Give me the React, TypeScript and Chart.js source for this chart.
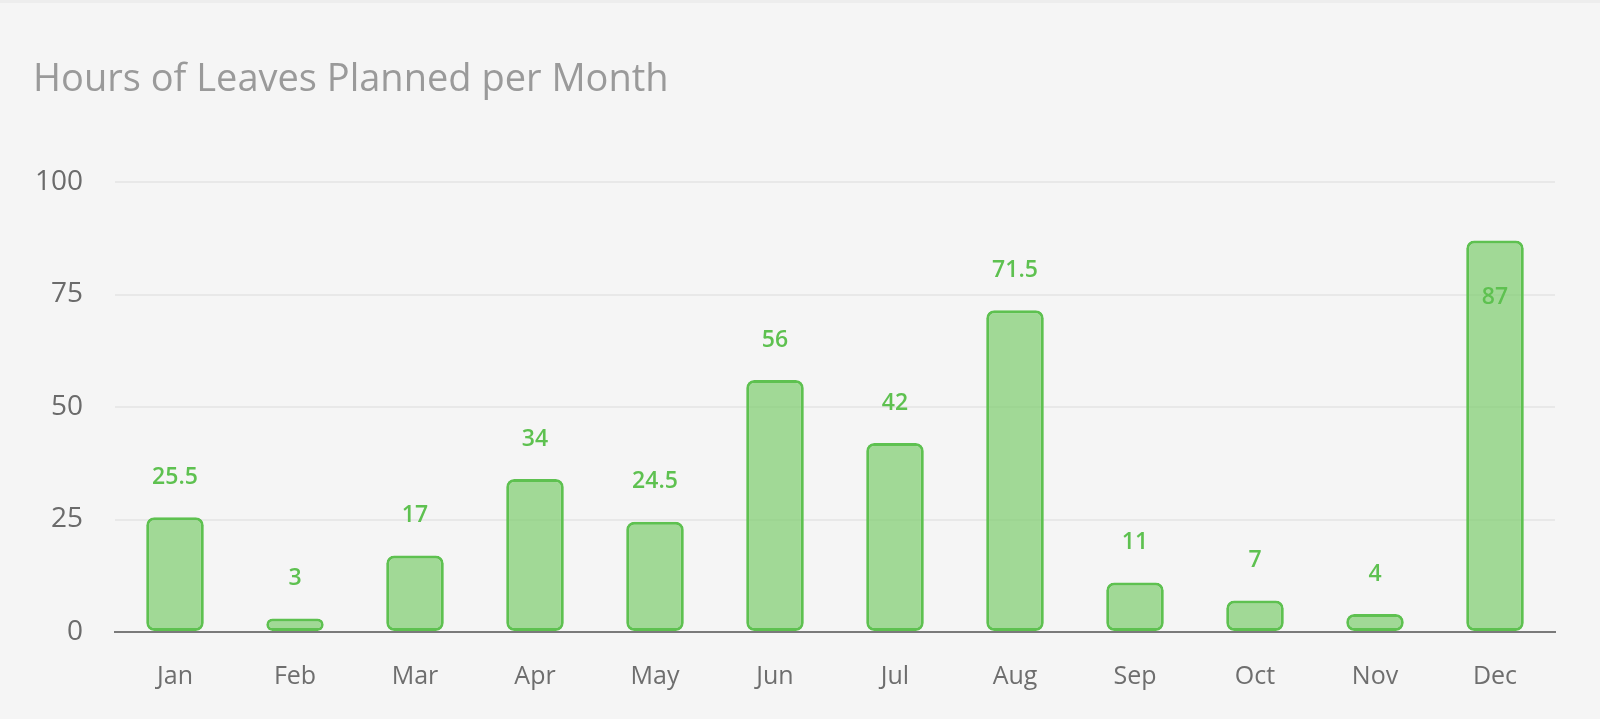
import React, { useEffect, useRef } from "react";
import { Chart, registerables } from "chart.js";

Chart.register(...registerables);

const categories = ["Jan", "Feb", "Mar", "Apr", "May", "Jun", "Jul", "Aug", "Sep", "Oct", "Nov", "Dec"];
const hours = [25.5, 3, 17, 34, 24.5, 56, 42, 71.5, 11, 7, 4, 87];
const yTicks = [0, 25, 50, 75, 100];
const titleText = "Hours of Leaves Planned per Month";

const FONT = "'Open Sans', sans-serif";
const GREEN = "#5ec150";

const titlePlugin = {
  id: "titlePlugin",
  afterDraw(chart: any) {
    const ctx = chart.ctx;
    ctx.save();
    ctx.font = `400 38px ${FONT}`;
    ctx.fillStyle = "#9a9a9a";
    ctx.textAlign = "left";
    ctx.textBaseline = "alphabetic";
    ctx.fillText(titleText, 33, 88);
    ctx.restore();
  },
};

const valueLabels = {
  id: "valueLabels",
  afterDatasetsDraw(chart: any) {
    const ctx = chart.ctx;
    const meta = chart.getDatasetMeta(0);
    const area = chart.chartArea;
    ctx.save();
    ctx.font = `600 23px ${FONT}`;
    ctx.fillStyle = GREEN;
    ctx.textAlign = "center";
    ctx.textBaseline = "middle";
    meta.data.forEach((bar: any, i: number) => {
      const v = chart.data.datasets[0].data[i];
      let y = bar.y - 40;
      if (bar.y - area.top < 70) y = bar.y + 57;
      ctx.fillText(String(v), bar.x, y);
    });
    ctx.restore();
  },
};

export default function App() {
  const ref = useRef<HTMLCanvasElement | null>(null);
  useEffect(() => {
    document.body.style.margin = "0";
    document.body.style.background = "#f5f5f5";
    const chart = new Chart(ref.current as HTMLCanvasElement, {
      type: "bar",
      data: {
        labels: categories,
        datasets: [
          {
            data: hours,
            backgroundColor: "rgba(125, 205, 110, 0.7)",
            borderColor: GREEN,
            borderWidth: 3,
            borderRadius: 8,
            borderSkipped: false,
            categoryPercentage: 1,
            barPercentage: 0.48,
          },
        ],
      },
      plugins: [valueLabels, titlePlugin],
      options: {
        animation: false,
        responsive: false,
        layout: { padding: { left: 0, right: 45, top: 179, bottom: 27 } },
        plugins: {
          legend: { display: false },
          tooltip: { enabled: false },
          title: { display: false },
        },
        scales: {
          x: {
            afterFit(axis: any) {
              axis.height = 60;
            },
            grid: { display: false, drawTicks: false },
            border: { display: true, color: "#7a7a7a", width: 2 },
            ticks: { color: "#6e6e6e", font: { family: FONT, size: 25 }, padding: 30, maxRotation: 0 },
          },
          y: {
            min: 0,
            max: 100,
            afterBuildTicks(axis: any) {
              axis.ticks = yTicks.map((v) => ({ value: v }));
            },
            afterFit(axis: any) {
              axis.width = 115;
            },
            grid: { color: "#e8e8e8", lineWidth: 2, drawTicks: false },
            border: { display: false },
            ticks: { color: "#6b6b6b", font: { family: FONT, size: 28 }, padding: 32 },
          },
        },
      },
    });
    return () => chart.destroy();
  }, []);
  return (
    <div style={{ width: 1600, height: 719, background: "#f5f5f5", boxSizing: "border-box", borderTop: "3px solid #ededed" }}>
      <canvas ref={ref} width={1600} height={716} style={{ display: "block" }} />
    </div>
  );
}
